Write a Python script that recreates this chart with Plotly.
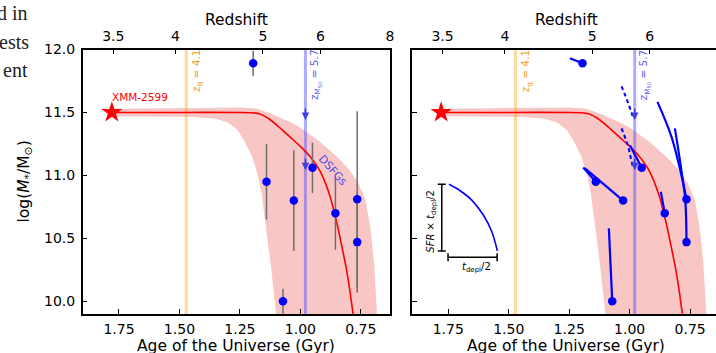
import math
import plotly.graph_objects as go

W, H = 716, 353

# ---------------- data ----------------
redshift_ticks = [3.5, 4, 5, 6, 8]
redshift_labels = ["3.5", "4", "5", "6", "8"]
age_ticks = [1.75, 1.50, 1.25, 1.00, 0.75]
age_labels = ["1.75", "1.50", "1.25", "1.00", "0.75"]
logm_ticks = [10.0, 10.5, 11.0, 11.5, 12.0]
logm_labels = ["10.0", "10.5", "11.0", "11.5", "12.0"]

z_xmm = 3.49
logm_xmm = 11.5
z_q = 4.1
z_m50 = 5.7
arrow_logm = [11.44, 11.04]

# XMM-2599 mass history (median) and band
model_age = [1.776, 1.50, 1.25, 1.20, 1.17, 1.13, 1.08, 1.04, 1.00, 0.96, 0.92, 0.88, 0.85, 0.83, 0.81, 0.795, 0.775]
model_logm = [11.50, 11.50, 11.50, 11.498, 11.49, 11.45, 11.37, 11.30, 11.23, 11.15, 11.04, 10.85, 10.63, 10.45, 10.26, 10.08, 9.80]
band_hi_age = [1.776, 1.40, 1.25, 1.18, 1.12, 1.05, 1.00, 0.92, 0.85, 0.80, 0.76, 0.73, 0.71, 0.695, 0.68]
band_hi_logm = [11.53, 11.535, 11.54, 11.53, 11.49, 11.43, 11.38, 11.27, 11.15, 11.05, 10.94, 10.80, 10.58, 10.30, 9.80]
band_lo_age = [1.776, 1.45, 1.35, 1.30, 1.26, 1.23, 1.20, 1.175, 1.16, 1.14, 1.12, 1.10, 1.095]
band_lo_logm = [11.47, 11.465, 11.45, 11.42, 11.36, 11.27, 11.15, 11.00, 10.85, 10.55, 10.25, 9.90, 9.80]

# DSFGs
dsfg_age = [1.195, 1.140, 1.027, 0.950, 0.855, 0.765, 0.765, 1.072]
dsfg_logm = [11.89, 10.95, 10.80, 11.06, 10.70, 10.81, 10.47, 10.00]
dsfg_err = [0.10, 0.30, 0.40, 0.20, 0.29, 0.70, 0.40, 0.10]

# growth tracks (right panel)
track_age = [
    [1.247, 1.195],
    [1.192, 1.140],
    [1.186, 1.027],
    [0.999, 0.950],
    [0.871, 0.855],
    [0.885, 0.827, 0.781, 0.765],
    [0.813, 0.786, 0.770, 0.765],
    [1.086, 1.072],
]
track_logm = [
    [11.93, 11.89],
    [11.063, 10.95],
    [11.058, 10.80],
    [11.24, 11.06],
    [10.87, 10.70],
    [11.584, 11.306, 10.96, 10.81],
    [11.373, 11.04, 10.80, 10.47],
    [10.579, 10.00],
]
dash_age = [[1.0335, 1.007, 0.986], [1.0335, 1.007, 0.986]]
dash_logm = [[11.708, 11.58, 11.46], [11.373, 11.24, 11.06]]

# inset schematic
inset_curve_age = [1.747, 1.701, 1.653, 1.605, 1.570, 1.547]
inset_curve_logm = [10.929, 10.878, 10.804, 10.685, 10.552, 10.40]
inset_vbar = (1.777, 10.665, 0.265)
inset_hbar = (1.6495, 10.349, 0.1015)


def age_gyr(z, H0=70.0, Om=0.3):
    OL = 1.0 - Om
    tH = 977.79 / H0
    return 2.0 / (3.0 * math.sqrt(OL)) * tH * math.asinh(math.sqrt(OL / Om) * (1.0 + z) ** -1.5)


age_xmm = age_gyr(z_xmm)
age_q = age_gyr(z_q)
age_m50 = age_gyr(z_m50)
z_ages = [age_gyr(z) for z in redshift_ticks]

BLUE = "#0000ff"
RED = "#ff0000"
FONT = "DejaVu Sans"

fig = go.Figure()


def panel(xa, ya, right):
    fig.add_trace(go.Scatter(
        x=band_hi_age + band_lo_age[::-1], y=band_hi_logm + band_lo_logm[::-1],
        fill="toself", fillcolor="#f9c6c6", line=dict(width=0), mode="lines",
        hoverinfo="skip", xaxis=xa, yaxis=ya))
    fig.add_trace(go.Scatter(x=[age_q, age_q], y=[9.5, 12.5], mode="lines",
                             line=dict(color="rgba(255,170,40,0.45)", width=3),
                             xaxis=xa, yaxis=ya))
    fig.add_trace(go.Scatter(x=[age_m50, age_m50], y=[9.5, 12.5], mode="lines",
                             line=dict(color="rgba(70,70,255,0.45)", width=3),
                             xaxis=xa, yaxis=ya))
    fig.add_trace(go.Scatter(x=model_age, y=model_logm, mode="lines",
                             line=dict(color=RED, width=1.6, shape="spline", smoothing=0.6),
                             xaxis=xa, yaxis=ya))
    if not right:
        fig.add_trace(go.Scatter(
            x=dsfg_age, y=dsfg_logm, mode="markers",
            marker=dict(color=BLUE, size=8.5),
            error_y=dict(type="data", array=dsfg_err, visible=True, color="#6e6e6e",
                         thickness=1.5, width=0),
            xaxis=xa, yaxis=ya))
    else:
        for ta, tl in zip(track_age, track_logm):
            fig.add_trace(go.Scatter(x=ta, y=tl, mode="lines",
                                     line=dict(color=BLUE, width=2.2, shape="spline"),
                                     xaxis=xa, yaxis=ya))
        for da, dl in zip(dash_age, dash_logm):
            fig.add_trace(go.Scatter(x=da, y=dl, mode="lines",
                                     line=dict(color=BLUE, width=2, dash="4px,3px"),
                                     xaxis=xa, yaxis=ya))
        fig.add_trace(go.Scatter(x=dsfg_age, y=dsfg_logm, mode="markers",
                                 marker=dict(color=BLUE, size=8.5), xaxis=xa, yaxis=ya))
        fig.add_trace(go.Scatter(x=inset_curve_age, y=inset_curve_logm, mode="lines",
                                 line=dict(color=BLUE, width=1.6, shape="spline"),
                                 xaxis=xa, yaxis=ya))
        fig.add_trace(go.Scatter(x=[inset_vbar[0]], y=[inset_vbar[1]], mode="markers",
                                 marker=dict(size=0.1, color="black"),
                                 error_y=dict(type="constant", value=inset_vbar[2], color="black",
                                              thickness=1.5, width=4),
                                 xaxis=xa, yaxis=ya))
        fig.add_trace(go.Scatter(x=[inset_hbar[0]], y=[inset_hbar[1]], mode="markers",
                                 marker=dict(size=0.1, color="black"),
                                 error_x=dict(type="constant", value=inset_hbar[2], color="black",
                                              thickness=1.5, width=4),
                                 xaxis=xa, yaxis=ya))
    fig.add_trace(go.Scatter(x=[age_xmm], y=[logm_xmm], mode="markers",
                             marker=dict(symbol="star", color=RED, size=16, line=dict(width=0)),
                             xaxis=xa, yaxis=ya))


panel("x", "y", False)
panel("x3", "y2", True)


def px(v):
    return v / W


def py(v):
    return 1 - v / H


ydom = [py(314), py(49.5)]
left_dom = [px(82.7), px(390)]
right_dom = [px(412), 1.0]
left_range = [1.9, age_gyr(8)]
right_range = [1.9, 0.643]
yrange = [9.899, 12.0]

axis_common = dict(showgrid=False, zeroline=False, showline=True, linecolor="black",
                   linewidth=1.5, ticks="inside", ticklen=5, tickwidth=1.2,
                   tickcolor="black", automargin=False,
                   tickfont=dict(family=FONT, size=14, color="black"))

fig.update_layout(
    xaxis=dict(domain=left_dom, range=left_range, anchor="y", tickvals=age_ticks,
               ticktext=age_labels, ticklabelstandoff=1, **axis_common),
    xaxis2=dict(domain=left_dom, range=left_range, anchor="y", overlaying="x", side="top",
                tickvals=z_ages, ticktext=redshift_labels, ticklabelstandoff=1, **axis_common),
    xaxis3=dict(domain=right_dom, range=right_range, anchor="y2", tickvals=age_ticks,
                ticktext=age_labels, ticklabelstandoff=1, **axis_common),
    xaxis4=dict(domain=right_dom, range=right_range, anchor="y2", overlaying="x3", side="top",
                tickvals=z_ages, ticktext=redshift_labels, ticklabelstandoff=1, **axis_common),
    yaxis=dict(domain=ydom, range=yrange, anchor="x", tickvals=logm_ticks,
               ticktext=logm_labels, mirror=True, ticklabelstandoff=3, **axis_common),
    yaxis2=dict(domain=ydom, range=yrange, anchor="x3", tickvals=logm_ticks,
                showticklabels=False, **axis_common),
)
fig.add_trace(go.Scatter(x=[None], y=[None], xaxis="x2", yaxis="y", showlegend=False))
fig.add_trace(go.Scatter(x=[None], y=[None], xaxis="x4", yaxis="y2", showlegend=False))

ann = []


def text(x, y, t, size, color="black", angle=0, family=FONT, xanchor="center", **kw):
    ann.append(dict(x=px(x), y=py(y), xref="paper", yref="paper", text=t, showarrow=False,
                    textangle=angle, xanchor=xanchor, yanchor="middle",
                    font=dict(family=family, size=size, color=color), **kw))


for cx in (236.4, 566):
    text(cx, 19.5, "Redshift", 15.5)
    text(cx, 345.5, "Age of the Universe (Gyr)", 15.5)
text(24, 181.5, "log(<i>M</i><sub>*</sub>/M<sub>⊙</sub>)", 15.5, angle=-90)

text(30, 13, "d in", 20, color="#222222", family="Liberation Serif", xanchor="right")
text(31, 42, "ests", 20, color="#222222", family="Liberation Serif", xanchor="right")
text(30, 70, "ent", 20, color="#222222", family="Liberation Serif", xanchor="right")

text(139.5, 96.5, "XMM-2599", 10.5, color=RED)
for off in (0, 329.3):
    text(197 + off, 71, "z<sub>q</sub> = 4.1", 10.5, color="#f0a020", angle=-90)
    text(316 + off, 75, "z<sub>M<sub>50</sub></sub> = 5.7", 10.5, color="#5a5af0", angle=-90)
text(333, 170, "DSFGs", 11, color="#4a4ae6", angle=48)
text(431.7, 221, "<i>SFR</i> × <i>t</i><sub>depl</sub>/2", 10, angle=-90)
text(476, 267, "<i>t</i><sub>depl</sub>/2", 10)

for xr, yr in (("x", "y"), ("x3", "y2")):
    for lm in arrow_logm:
        ann.append(dict(x=age_m50, y=lm, xref=xr, yref=yr, ax=0, ay=-13, text="",
                        showarrow=True, arrowhead=2, arrowsize=1, arrowwidth=1.5,
                        arrowcolor="#4040e0"))

fig.update_layout(
    annotations=ann,
    width=W, height=H, margin=dict(l=0, r=0, t=0, b=0),
    paper_bgcolor="white", plot_bgcolor="white", showlegend=False,
    template="none",
)

fig.write_html("out.html", config={"displayModeBar": False},
               post_script="document.body.style.margin='0px';document.body.style.overflow='hidden';")
